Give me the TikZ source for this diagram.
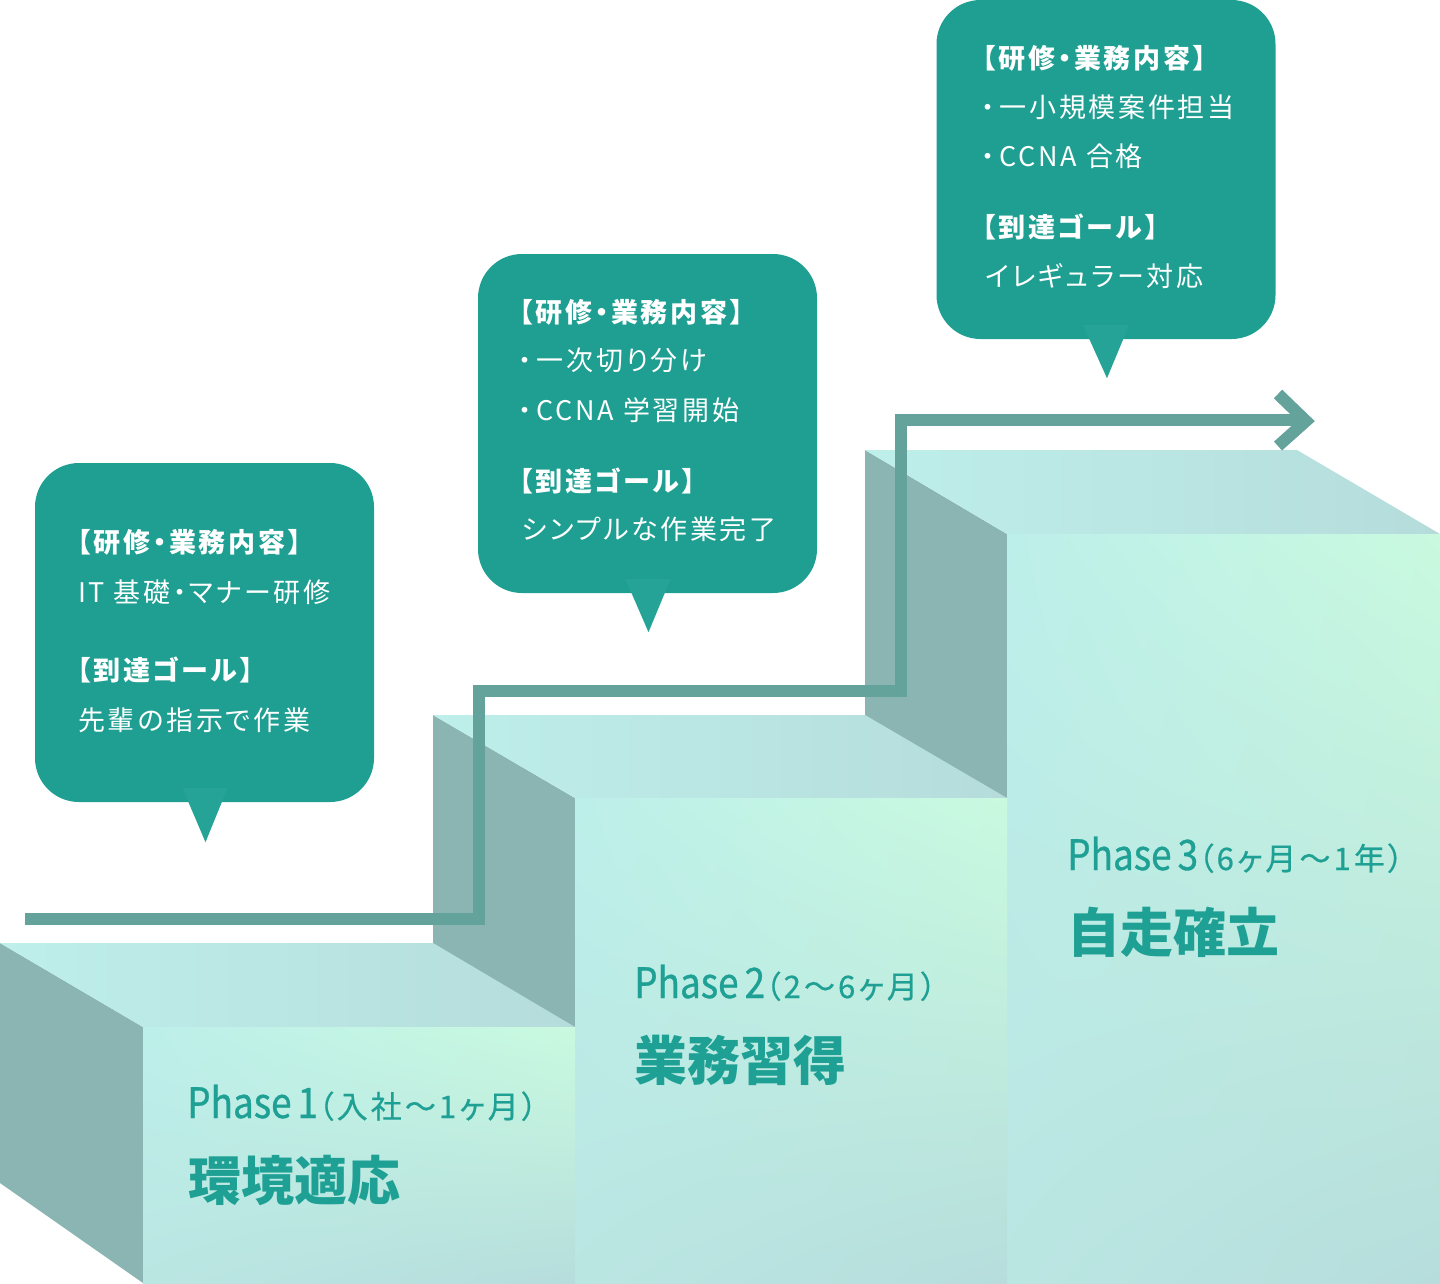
\documentclass[tikz,border=0pt]{standalone}
\usepackage{fontspec}
\usetikzlibrary{calc,shadings}
\newfontfamily\jp[RawFeature=+palt,LetterSpace=10]{Noto Sans CJK JP}
\newfontfamily\jpk{Noto Sans CJK JP}
\newfontfamily\phfont[FakeStretch=0.88,FakeBold=0.8]{Noto Sans CJK JP}
\newfontfamily\parfont[RawFeature=+palt,LetterSpace=10,FakeBold=0.6]{Noto Sans CJK JP}
\definecolor{bub}{HTML}{1E9F92}
\definecolor{tailc}{HTML}{25A397}
\definecolor{flowc}{HTML}{63A39C}
\definecolor{sidec}{HTML}{8AB5B2}
\definecolor{topL}{HTML}{BEEFEA}
\definecolor{topR}{HTML}{B5DCDB}
\definecolor{frUL}{HTML}{BDEFEA}
\definecolor{frUR}{HTML}{C9FADF}
\definecolor{frLL}{HTML}{BAE6E2}
\definecolor{frLR}{HTML}{B6DDDC}
\definecolor{ptext}{HTML}{1FA094}
\tikzset{
  sideface/.style={fill=sidec},
  topface/.style={left color=topL,right color=topR},
  frontface/.style={upper left=frUL,upper right=frUR,lower left=frLL,lower right=frLR},
  flow/.style={draw=flowc,line width=12pt,line join=miter,line cap=butt},
  bubble/.style={fill=bub,rounded corners=44pt,minimum width=339pt,minimum height=339pt,inner sep=0pt},
  tail/.style={fill=tailc},
  btxt/.style={anchor=base west,inner sep=0pt,text=white,font=\jp\fontsize{27}{27}\selectfont},
  bhead/.style={btxt,font=\jp\bfseries\fontsize{27}{27}\selectfont},
  phasel/.style={anchor=base west,inner sep=0pt,text=ptext},
  phasek/.style={anchor=west,inner sep=0pt,text=ptext,font=\jpk\bfseries\fontsize{53}{53}\selectfont},
}
\newcommand{\phbig}[2]{{\phfont\fontsize{42}{42}\selectfont #1\kern6pt #2}}
\newcommand{\phsmall}[1]{{\parfont\fontsize{31}{31}\selectfont #1}}
\newcommand{\bul}{・\kern5pt}
\begin{document}
\begin{tikzpicture}[x=1pt,y=-1pt]
\useasboundingbox (0,0) rectangle (1440,1283);
% ---- step 3
\fill[sideface] (865,450) -- (1007,534) -- (1007,800) -- (865,716) -- cycle;
\shade[topface] (865,450) -- (1297,450) -- (1440,534) -- (1007,534) -- cycle;
\shade[frontface] (1007,534) rectangle (1440,1283);
% ---- step 2
\fill[sideface] (433,715) -- (575,798) -- (575,1029) -- (433,944) -- cycle;
\shade[topface] (433,715) -- (865,715) -- (1007,798) -- (575,798) -- cycle;
\shade[frontface] (575,798) rectangle (1007,1283);
% ---- step 1
\fill[sideface] (0,943) -- (143,1027) -- (143,1283) -- (0,1183) -- cycle;
\shade[topface] (0,943) -- (433,943) -- (575,1027) -- (143,1027) -- cycle;
\shade[frontface] (143,1027) rectangle (575,1283);
% ---- flow arrow
\coordinate (p0) at (25,919);
\coordinate (p1) at (479,919);
\coordinate (p2) at (479,691);
\coordinate (p3) at (901,691);
\coordinate (p4) at (901,420);
\coordinate (p5) at (1303,420);
\coordinate (c1) at (1278,394);
\coordinate (c2) at (1306,421);
\coordinate (c3) at (1278,446);
\draw[flow] (p0) -- (p1) -- (p2) -- (p3) -- (p4) -- (p5);
\draw[flow] (c1) -- (c2) -- (c3);
% ---- phase labels
\node[phasel] (ph1) at (187,1118) {\phbig{Phase}{1}\phsmall{（入社〜1ヶ月）}};
\node[phasek] (k1) at (188,1180) {環境適応};
\node[phasel] (ph2) at (634,998) {\phbig{Phase}{2}\phsmall{（2〜6ヶ月）}};
\node[phasek] (k2) at (634,1060) {業務習得};
\node[phasel] (ph3) at (1067,870) {\phbig{Phase}{3}\phsmall{（6ヶ月〜1年）}};
\node[phasek] (k3) at (1067,932) {自走確立};
% ---- bubble 1
\node[bubble] (b1) at (204.5,632.5) {};
\fill[tail] ($(b1.south)+(-22,-14)$) -- ($(b1.south)+(23,-14)$) -- ($(b1.south)+(1,40)$) -- cycle;
\node[bhead] (b1a) at (77,552) {【研修・業務内容】};
\node[btxt]  (b1b) at (78,602) {IT 基礎・マナー研修};
\node[bhead] (b1c) at (77,680) {【到達ゴール】};
\node[btxt]  (b1d) at (78,730) {先輩の指示で作業};
% ---- bubble 2
\node[bubble] (b2) at (647.5,423.5) {};
\fill[tail] ($(b2.south)+(-22,-14)$) -- ($(b2.south)+(23,-14)$) -- ($(b2.south)+(1,39)$) -- cycle;
\node[bhead] (b2a) at (519,322) {【研修・業務内容】};
\node[btxt]  (b2b) at (518,370) {\bul 一次切り分け};
\node[btxt]  (b2c) at (518,420) {\bul CCNA 学習開始};
\node[bhead] (b2d) at (519,491) {【到達ゴール】};
\node[btxt]  (b2e) at (522,539) {シンプルな作業完了};
% ---- bubble 3
\node[bubble] (b3) at (1106,169.5) {};
\fill[tail] ($(b3.south)+(-23,-14)$) -- ($(b3.south)+(23,-14)$) -- ($(b3.south)+(1,39)$) -- cycle;
\node[bhead] (b3a) at (982,68) {【研修・業務内容】};
\node[btxt]  (b3b) at (981,117) {\bul 一小規模案件担当};
\node[btxt]  (b3c) at (981,166) {\bul CCNA 合格};
\node[bhead] (b3d) at (982,237) {【到達ゴール】};
\node[btxt]  (b3e) at (985,286) {イレギュラー対応};
\end{tikzpicture}
\end{document}
